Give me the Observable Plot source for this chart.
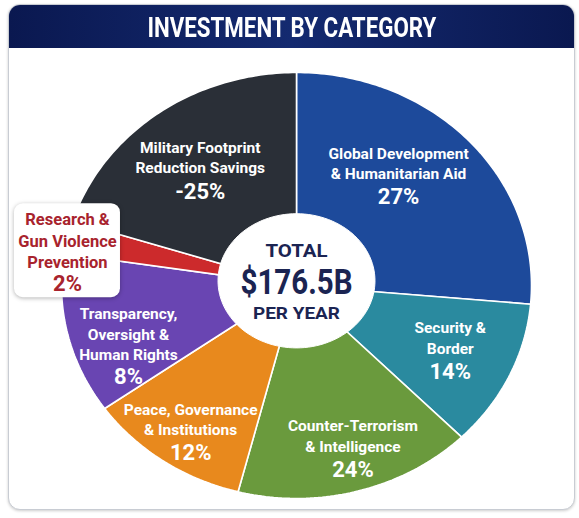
<!DOCTYPE html>
<html><head><meta charset="utf-8">
<script src="https://cdn.jsdelivr.net/npm/d3@7"></script>
<script src="https://cdn.jsdelivr.net/npm/@observablehq/plot@0.6"></script>
<style>
body{margin:0;background:#fff}
#wrap{position:relative;width:579px;height:518px;overflow:hidden;background:#fff}
#card{position:absolute;left:8px;top:4px;width:565px;height:504px;border:1.5px solid #c8ccd3;border-radius:12px;box-shadow:0 1px 3px rgba(0,0,0,.2);background:#fff;overflow:hidden}
#banner{height:43px;background:linear-gradient(90deg,#0a1850 0%,#142a70 50%,#0a1850 100%);color:#fff;font-family:Roboto,sans-serif;font-weight:bold;font-size:27px;display:flex;align-items:center;justify-content:center;padding-top:3px;box-sizing:border-box}
#banner span{display:inline-block;white-space:nowrap}
#chart{position:absolute;left:0;top:0}
</style></head>
<body>
<div id="wrap"><div id="card"><div id="banner"><span id="title"></span></div></div><div id="chart"></div></div>
<script>
const title = "INVESTMENT BY CATEGORY";
const categories = ["Global Development & Humanitarian Aid","Security & Border","Counter-Terrorism & Intelligence","Peace, Governance & Institutions","Transparency, Oversight & Human Rights","Research & Gun Violence Prevention","Military Footprint Reduction Savings"];
const labelLines = [["Global Development","& Humanitarian Aid"],["Security &","Border"],["Counter-Terrorism","& Intelligence"],["Peace, Governance","& Institutions"],["Transparency,","Oversight &","Human Rights"],["Research &","Gun Violence","Prevention"],["Military Footprint","Reduction Savings"]];
// share of the pie as drawn (angles), percent
const shares = [26.4, 11.2, 16.4, 11.2, 12.2, 2.5, 20.1];
const percentLabels = ["27%","14%","24%","12%","8%","2%","-25%"];
const centerLines = ["TOTAL","$176.5B","PER YEAR"];

// styling / layout
const colors = ["#1d4a9b","#2a8a9f","#6a9a3d","#e8891d","#6945b2","#cc2a2c","#2a2f37"];
const textColors = ["#fff","#fff","#fff","#fff","#fff","#a8232d","#fff"];
const labelR = [0.723,0.697,0.741,0.769,0.749,0.998,0.731];
const labelTurn = [-10.6,-5,-3.8,1.3,-4,-0.7,2.1];
const centerWidths = [62, 112, 87];
const FONT = 'Roboto,sans-serif';

const t = document.getElementById("title");
t.textContent = title;

const rad = a => a*Math.PI/180;
const total = d3.sum(shares);
let acc = 0;
const slices = shares.map((s,i) => { const a0 = acc/total*360; acc += s; const a1 = acc/total*360; return {i, a0, a1, mid:(a0+a1)/2}; });
const pts = [];
for (const sl of slices) {
  pts.push({i: sl.i, u: 0, v: 0});
  const n = Math.max(2, Math.ceil(sl.a1 - sl.a0));
  for (let k = 0; k <= n; k++) { const a = rad(sl.a0 + (sl.a1 - sl.a0)*k/n); pts.push({i: sl.i, u: Math.sin(a), v: -Math.cos(a)}); }
  pts.push({i: sl.i, u: 0, v: 0});
}
const hole = d3.range(0, 361, 3).map(a => ({u: 0.334*Math.sin(rad(a)), v: -0.022 - 0.315*Math.cos(rad(a))}));
const labels = slices.map(sl => { const a = rad(sl.mid + labelTurn[sl.i]); const r = labelR[sl.i];
  return {i: sl.i, u: r*Math.sin(a), v: -r*Math.cos(a), text: labelLines[sl.i].join("\n"), n: labelLines[sl.i].length, pct: percentLabels[sl.i], color: textColors[sl.i]}; });
const inner = labels.filter(d => d.i !== 5), outer = labels.filter(d => d.i === 5);

const boxMark = (index, scales) => {
  const d = outer[0];
  const x = scales.x(d.u), y = scales.y(d.v);
  const r = document.createElementNS("http://www.w3.org/2000/svg","rect");
  r.setAttribute("x", x - 53); r.setAttribute("y", y - 36); r.setAttribute("width", 106); r.setAttribute("height", 94);
  r.setAttribute("rx", 9); r.setAttribute("fill", "#fff");
  r.setAttribute("style", "filter: drop-shadow(0px 1px 2px rgba(0,0,0,0.3))");
  return r;
};

const chart = Plot.plot({
  width: 579, height: 518, margin: 0,
  x: {domain: [-1, 1], range: [61, 531], axis: null},
  y: {domain: [-1, 1], range: [72, 498], axis: null},
  style: {background: "transparent", fontFamily: FONT},
  marks: [
    ...slices.map(sl => Plot.line(pts.filter(p => p.i === sl.i), {x: "u", y: "v", fill: colors[sl.i], stroke: "#fff", strokeWidth: 1.6, curve: "linear", strokeLinejoin: "miter"})),
    Plot.line(hole, {x: "u", y: "v", fill: "#fff", stroke: "#fff", strokeWidth: 1, curve: "linear", style: "filter: drop-shadow(0px 1px 3px rgba(0,0,0,0.25))"}),
    boxMark,
    Plot.text(inner, {x: "u", y: "v", text: "text", fill: "color", fontSize: 15.5, fontWeight: "bold", lineHeight: 1.33, lineAnchor: "middle", fontFamily: FONT}),
    Plot.text(outer, {x: "u", y: "v", text: "text", fill: "color", fontSize: 16.5, fontWeight: "bold", lineHeight: 1.3, lineAnchor: "middle", fontFamily: FONT}),
    Plot.text(inner.filter(d => d.n === 2), {x: "u", y: "v", text: "pct", fill: "color", fontSize: 22, fontWeight: "bold", dy: 35, fontFamily: FONT}),
    Plot.text(labels.filter(d => d.n === 3), {x: "u", y: "v", text: "pct", fill: "color", fontSize: 22, fontWeight: "bold", dy: 44, fontFamily: FONT}),
    Plot.text([centerLines[0]], {x: () => 0, y: () => 0, text: d => d, fill: "#1b2452", fontSize: 19, fontWeight: "bold", dy: -35, fontFamily: FONT}),
    Plot.text([centerLines[1]], {x: () => 0, y: () => 0, text: d => d, fill: "#1b2452", fontSize: 35, fontWeight: "bold", dy: -3, fontFamily: FONT}),
    Plot.text([centerLines[2]], {x: () => 0, y: () => 0, text: d => d, fill: "#1b2452", fontSize: 16.5, fontWeight: "bold", dy: 28, fontFamily: FONT})
  ]
});
document.getElementById("chart").append(chart);
// condense text to the widths seen in the picture
chart.querySelectorAll("text").forEach(el => {
  const k = centerLines.indexOf(el.textContent);
  if (k >= 0) { el.setAttribute("textLength", centerWidths[k]); el.setAttribute("lengthAdjust", "spacingAndGlyphs"); }
});
const w = t.getBoundingClientRect().width;
t.style.transform = `scaleX(${Math.min(1, 289 / w)})`;
</script>
</body></html>
